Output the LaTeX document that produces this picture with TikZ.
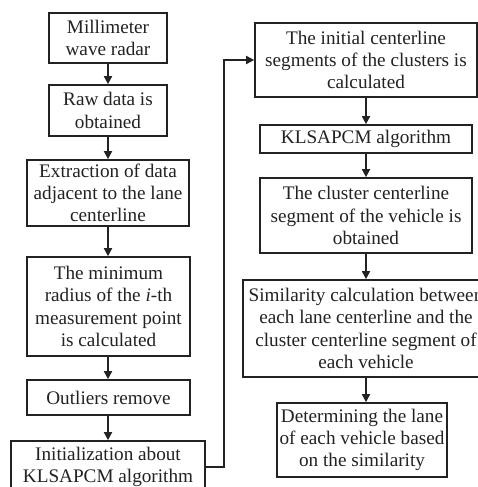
\documentclass[tikz,border=0pt]{standalone}
\usepackage{fontspec}
\setmainfont{Liberation Serif}
\usetikzlibrary{arrows.meta}
\definecolor{ink}{HTML}{222222}
\tikzset{
  box/.style={draw=ink, line width=1.7pt, rectangle, align=center, inner sep=0pt,
    text=ink, font=\fontsize{19.2}{22.2}\selectfont},
  arr/.style={draw=ink, line width=1.7pt, -{Triangle[length=8pt,width=8pt]}}
}
\begin{document}
\begin{tikzpicture}[x=1pt,y=-1pt]
\useasboundingbox (0,0) rectangle (478,487);
\clip (0,0) rectangle (478,487);
\fill[white] (0,0) rectangle (478,487);
\node[box, minimum width=118pt, minimum height=50pt] (b1) at (108,38) {Millimeter\\wave radar};
\node[box, minimum width=118pt, minimum height=51pt] (b2) at (108,110.5) {Raw data is\\obtained};
\node[box, minimum width=162pt, minimum height=66pt] (b3) at (108,193) {Extraction of data\\adjacent to the lane\\centerline};
\node[box, minimum width=163pt, minimum height=99pt] (b4) at (108.5,306.5) {The minimum\\radius of the \textit{i}-th\\measurement point\\is calculated};
\node[box, minimum width=163pt, minimum height=35pt] (b5) at (108.5,397.5) {Outliers remove};
\node[box, minimum width=194pt, minimum height=52pt] (b6) at (108,467) {Initialization about\\KLSAPCM algorithm};
\node[box, minimum width=222pt, minimum height=74pt] (b7) at (366,60) {The initial centerline\\segments of the clusters is\\calculated};
\node[box, minimum width=212pt, minimum height=28pt] (b8) at (366,139) {KLSAPCM algorithm};
\node[box, minimum width=212pt, minimum height=75pt] (b9) at (366,215.5) {The cluster centerline\\segment of the vehicle is\\obtained};
\node[box, minimum width=246pt, minimum height=97pt] (b10) at (366,328.5) {Similarity calculation between\\each lane centerline and the\\cluster centerline segment of\\each vehicle};
\node[box, minimum width=170pt, minimum height=74pt] (b11) at (362,440) {Determining the lane\\of each vehicle based\\on the similarity};
\draw[arr] (b1.south) -- (b2.north);
\draw[arr] (b2.south) -- (b3.north);
\draw[arr] (b3.south) -- (b3.south |- b4.north);
\draw[arr] (b3.south |- b4.south) -- (b3.south |- b5.north);
\draw[arr] (b3.south |- b5.south) -- (b3.south |- b6.north);
\draw[arr] (b6.east) -- ++(18,0) |- (b7.west);
\draw[arr] (b7.south) -- (b8.north);
\draw[arr] (b8.south) -- (b9.north);
\draw[arr] (b9.south) -- (b10.north);
\draw[arr] (b10.south) -- (b10.south |- b11.north);
\end{tikzpicture}
\end{document}
